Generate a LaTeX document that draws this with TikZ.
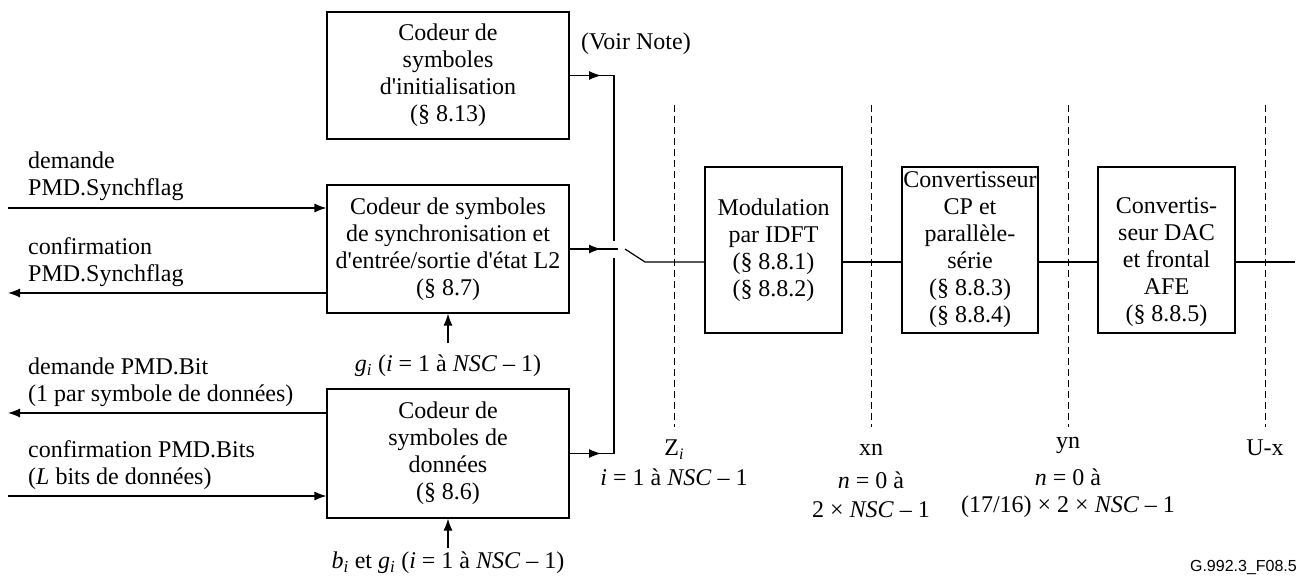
\documentclass[tikz,border=0pt]{standalone}
\usepackage{fontspec}
\setmainfont{Liberation Serif}[Ligatures=TeXOff]
\newfontfamily\figsans{Liberation Sans}
\usetikzlibrary{arrows.meta}
\tikzset{
  blk/.style={draw, line width=1.2pt, inner sep=0pt, align=center},
  arr/.style={-{Latex[length=12pt,width=9pt]}},
  ln/.style={line width=1.2pt},
  dsh/.style={line width=1pt, dash pattern=on 7pt off 4pt},
  lbl/.style={inner sep=0pt, align=center},
  lft/.style={inner sep=0pt, align=left, anchor=west}
}
\begin{document}
\begin{tikzpicture}[x=1pt, y=-1pt, font=\fontsize{24}{27}\selectfont]
\useasboundingbox (0,0) rectangle (1305,580);
% left boxes
\node[blk, minimum width=242pt, minimum height=127pt] (b1) at (448,75.5) {Codeur de\\symboles\\d'initialisation\\(§ 8.13)};
\node[blk, minimum width=242pt, minimum height=128pt] (b2) at (448,249) {Codeur de symboles\\de synchronisation et\\d'entrée/sortie d'état L2\\(§ 8.7)};
\node[blk, minimum width=242pt, minimum height=129pt] (b3) at (448,453.5) {Codeur de\\symboles de\\données\\(§ 8.6)};
% right boxes
\node[blk, minimum width=137pt, minimum height=166pt] (mod) at (773.5,250) {Modulation\\par IDFT\\(§ 8.8.1)\\(§ 8.8.2)};
\node[blk, minimum width=136pt, minimum height=166pt] (cp) at (970,250) {Convertisseur\\CP et\\parallèle-\\série\\(§ 8.8.3)\\(§ 8.8.4)};
\node[blk, minimum width=137pt, minimum height=166pt] (dac) at (1166.5,250) {};
\node[lbl] (dact) at ([yshift=-12pt]dac.center) {Convertis-\\seur DAC\\et frontal\\AFE\\(§ 8.8.5)};
% coordinates
\coordinate (inA) at (8,208);
\coordinate (outA) at (8,293);
\coordinate (outB) at (8,413);
\coordinate (inB) at (8,496);
\coordinate (gi) at (448,343);
\coordinate (bi) at (448,548);
\coordinate (t1) at (601,75.5);
\coordinate (t2) at (601,249);
\coordinate (t3) at (601,453.5);
\coordinate (bus1) at (614,75.5);
\coordinate (busa) at (614,241);
\coordinate (busb) at (614,258);
\coordinate (bus3) at (614,453.5);
\coordinate (syncend) at (618,249);
\coordinate (swa) at (625,249);
\coordinate (swb) at (645,262);
\coordinate (outR) at (1295,262);
% left signals
\draw[ln, arr] (inA) -- (inA -| b2.west);
\draw[ln, arr] (outA -| b2.west) -- (outA);
\draw[ln, arr] (outB -| b3.west) -- (outB);
\draw[ln, arr] (inB) -- (inB -| b3.west);
\node[lft] (tA) at (28,176.5) {demande\\PMD.Synchflag};
\node[lft] (tB) at (28,262) {confirmation\\PMD.Synchflag};
\node[lft] (tC) at (28,382.5) {demande PMD.Bit\\(1 par symbole de données)};
\node[lft] (tD) at (28,465) {confirmation PMD.Bits\\(\textit{L} bits de données)};
% bottom inputs
\draw[ln, arr] (gi) -- (b2.south);
\draw[ln, arr] (bi) -- (b3.south);
\node[lbl] (gil) at (448,366) {\textit{g}\textsubscript{\textit{i}} (\textit{i} = 1 à \textit{NSC} – 1)};
\node[lbl] (bil) at (448,563) {\textit{b}\textsubscript{\textit{i}} et \textit{g}\textsubscript{\textit{i}} (\textit{i} = 1 à \textit{NSC} – 1)};
% bus and switch
\draw[ln] (b1.east) -- (bus1) -- (busa);
\draw[ln, arr] (b1.east) -- (t1);
\draw[ln] (b2.east) -- (syncend);
\draw[ln, arr] (b2.east) -- (t2);
\draw[ln] (b3.east) -- (bus3) -- (busb);
\draw[ln, arr] (b3.east) -- (t3);
\draw[ln] (swa) -- (swb) -- (swb -| mod.west);
\node[lbl] (note) at (636,44) {(Voir Note)};
% chain
\draw[ln] (mod.east |- swb) -- (cp.west |- swb);
\draw[ln] (cp.east |- swb) -- (dac.west |- swb);
\draw[ln] (dac.east |- swb) -- (outR);
% dashed reference lines
\draw[dsh] (674,105) -- (674,427);
\draw[dsh] (871,105) -- (871,427);
\draw[dsh] (1068,105) -- (1068,427);
\draw[dsh] (1265,105) -- (1265,427);
% labels
\node[lbl] (zl) at (674,450) {Z\raisebox{-4pt}{\fontsize{16}{16}\selectfont\textit{i}}};
\node[lbl] (zl2) at (674,477) {\textit{i} = 1 à \textit{NSC} – 1};
\node[lbl] (xl) at (871,450) {xn};
\node[lbl] (xl2) at (871,480) {\textit{n} = 0 à};
\node[lbl] (xl3) at (871,510) {2 × \textit{NSC} – 1};
\node[lbl] (yl) at (1068,445) {yn};
\node[lbl] (yl2) at (1068,477) {\textit{n} = 0 à};
\node[lbl] (yl3) at (1068,507) {(17/16) × 2 × \textit{NSC} – 1};
\node[lbl] (ul) at (1265,448) {U-x};
\node[inner sep=0pt, anchor=east, font=\figsans\fontsize{16}{18}\selectfont] (fig) at (1297,567) {G.992.3\_F08.5};
\end{tikzpicture}
\end{document}
